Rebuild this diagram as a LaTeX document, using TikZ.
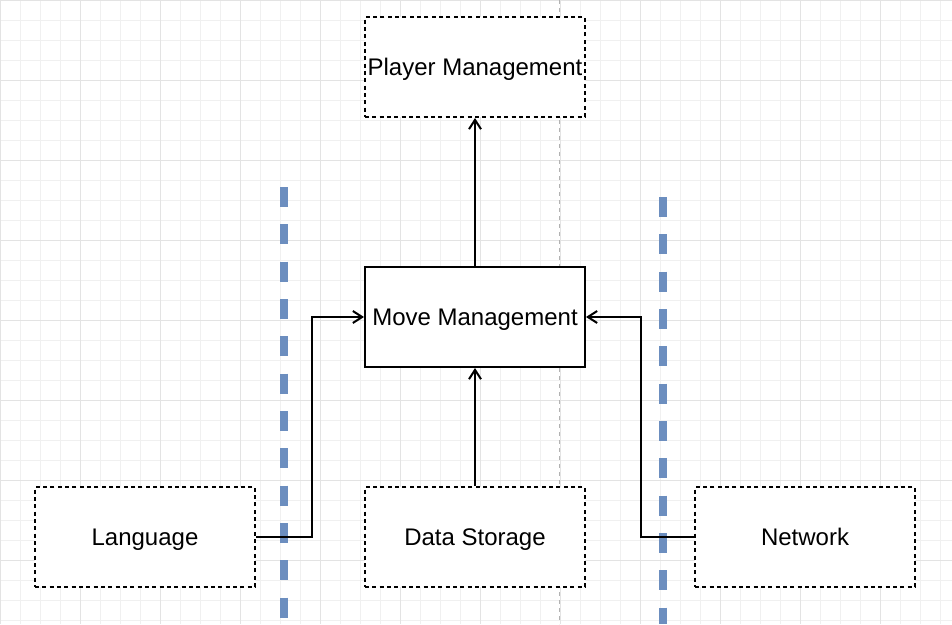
\documentclass[tikz,border=0pt]{standalone}
\usepackage{fontspec}
\setmainfont{Liberation Sans}
\usetikzlibrary{arrows.meta}
\tikzset{every picture/.style={line width=1.5pt}}
\tikzset{
  block/.style={draw, minimum width=165pt, minimum height=75pt, inner sep=0pt, text depth=0pt, font=\fontsize{18pt}{20pt}\selectfont},
  part/.style={block, dash pattern=on 3pt off 2.5pt},
  flow/.style={-{Straight Barb[length=7pt,width=9pt]}},
  lane/.style={draw={rgb,255:red,108;green,142;blue,191}, line width=5.5pt, dash pattern=on 15pt off 13pt}
}
\begin{document}
\begin{tikzpicture}[x=0.75pt,y=0.75pt,yscale=-1,xscale=1]
\useasboundingbox (0,0) rectangle (952,624);
%grid
\draw [line width=0.5pt, black!6] (-15,-15) grid[step=20] (952,624);
\draw [line width=0.6pt, black!11] (-75,-75) grid[step=80] (952,624);

%lanes
\coordinate (laneA) at (284,187);
\coordinate (laneAend) at (284,624);
\coordinate (laneB) at (663,197);
\coordinate (laneBend) at (663,624);
\coordinate (midTop) at (559,0);
\coordinate (midEnd) at (559,624);
\draw [lane] (laneA) -- (laneAend);
\draw [lane] (laneB) -- (laneBend);
\draw [black!30, dashed, line width=0.7pt] (midTop) -- (midEnd);

% Text Nodes
\node [part, fill=white] (player) at (475,67) {Player Management};
\node [block, fill=white] (move) at (475,317) {Move Management};
\node [part, fill=white] (lang) at (145,537) {Language};
\node [part, fill=white] (store) at (475,537) {Data Storage};
\node [part, fill=white] (net) at (805,537) {Network};

% Connections
\draw [flow] (move) -- (player);
\draw [flow] (store) -- (move);
\draw [flow] (lang.east) -| (312,317) -- (move.west);
\draw [flow] (net.west) -| (641,317) -- (move.east);
\end{tikzpicture}
\end{document}
